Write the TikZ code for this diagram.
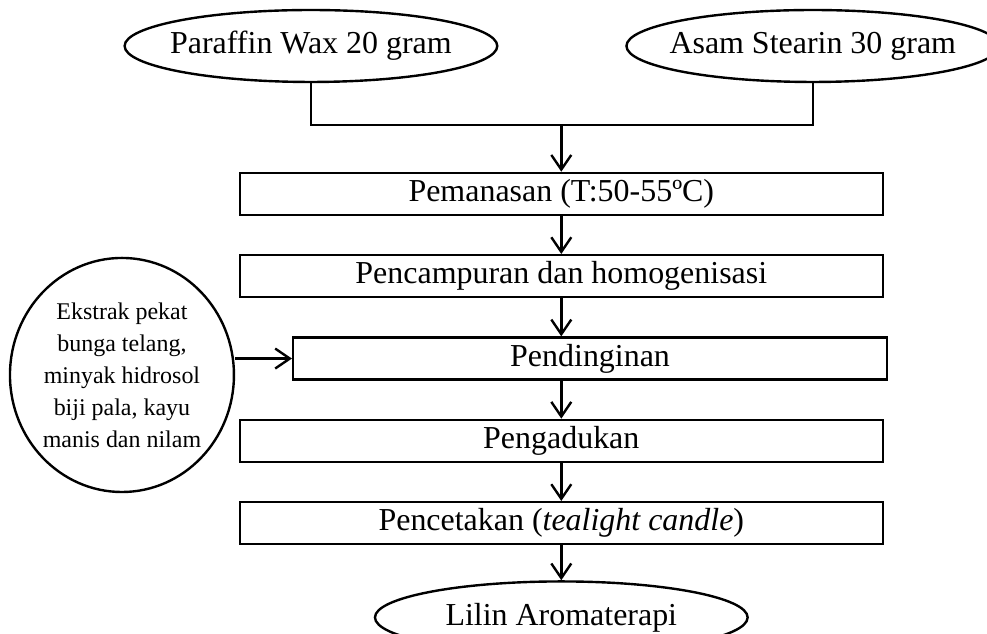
\documentclass[tikz,border=0pt]{standalone}
\usepackage{fontspec}
\setmainfont{Liberation Serif}
\usetikzlibrary{shapes.geometric,arrows.meta,positioning}
\tikzset{
  stepbox/.style={rectangle,draw,line width=0.9pt,minimum width=#1,
    minimum height=0.555cm,inner sep=0pt,font=\fontsize{12}{14}\selectfont},
  stepbox/.default=8.49cm,
  oval/.style={ellipse,draw,line width=0.9pt,minimum width=4.92cm,
    minimum height=0.95cm,inner sep=0pt,font=\fontsize{12}{14}\selectfont},
  bahan/.style={ellipse,draw,line width=0.9pt,minimum width=2.9cm,
    minimum height=3.09cm,inner sep=0pt,align=center,
    font=\fontsize{9}{12}\selectfont},
  arr/.style={-{Straight Barb[length=5.5pt,width=7.5pt]},line width=0.9pt},
  ln/.style={line width=0.9pt},
}
\begin{document}
\begin{tikzpicture}[node distance=0.5cm]
  \useasboundingbox (0,0) rectangle (13.03,-8.36);
  \node[oval] (wax) at (4.105,-0.607) {\makebox[0pt]{Paraffin Wax 20 gram}};
  \node[oval] (stearin) at (10.73,-0.607) {\makebox[0pt]{Asam Stearin 30 gram}};

  \node[stepbox] (panas) at (7.41,-2.56) {Pemanasan (T:50-55ºC)};
  \node[stepbox,below=of panas] (campur) {Pencampuran dan homogenisasi};
  \node[stepbox=7.84cm,below=of campur,xshift=0.38cm] (dingin) {Pendinginan};
  \node[stepbox,below=of dingin,xshift=-0.38cm] (aduk) {Pengadukan};
  \node[stepbox,below=of aduk] (cetak) {Pencetakan (\textit{tealight candle})};
  \node[oval,below=0.46cm of cetak] (lilin) {\makebox[0pt]{Lilin Aromaterapi}};

  \node[bahan] (ekstrak) at (1.61,-4.95)
    {Ekstrak pekat\\bunga telang,\\minyak hidrosol\\biji pala, kayu\\manis dan nilam};

  \coordinate (gabung) at (panas.north |- 0,-1.65);
  \draw[ln] (wax.south) |- (gabung);
  \draw[ln] (stearin.south) |- (gabung);
  \draw[arr] (gabung) -- (panas.north);
  \draw[arr] (panas) -- (campur);
  \draw[arr] (campur.south) -- (campur.south |- dingin.north);
  \draw[arr] (aduk.north |- dingin.south) -- (aduk.north);
  \draw[arr] (aduk) -- (cetak);
  \draw[arr] (cetak) -- (lilin);
  \draw[arr] (ekstrak.east |- dingin.west) -- (dingin.west);
\end{tikzpicture}
\end{document}
